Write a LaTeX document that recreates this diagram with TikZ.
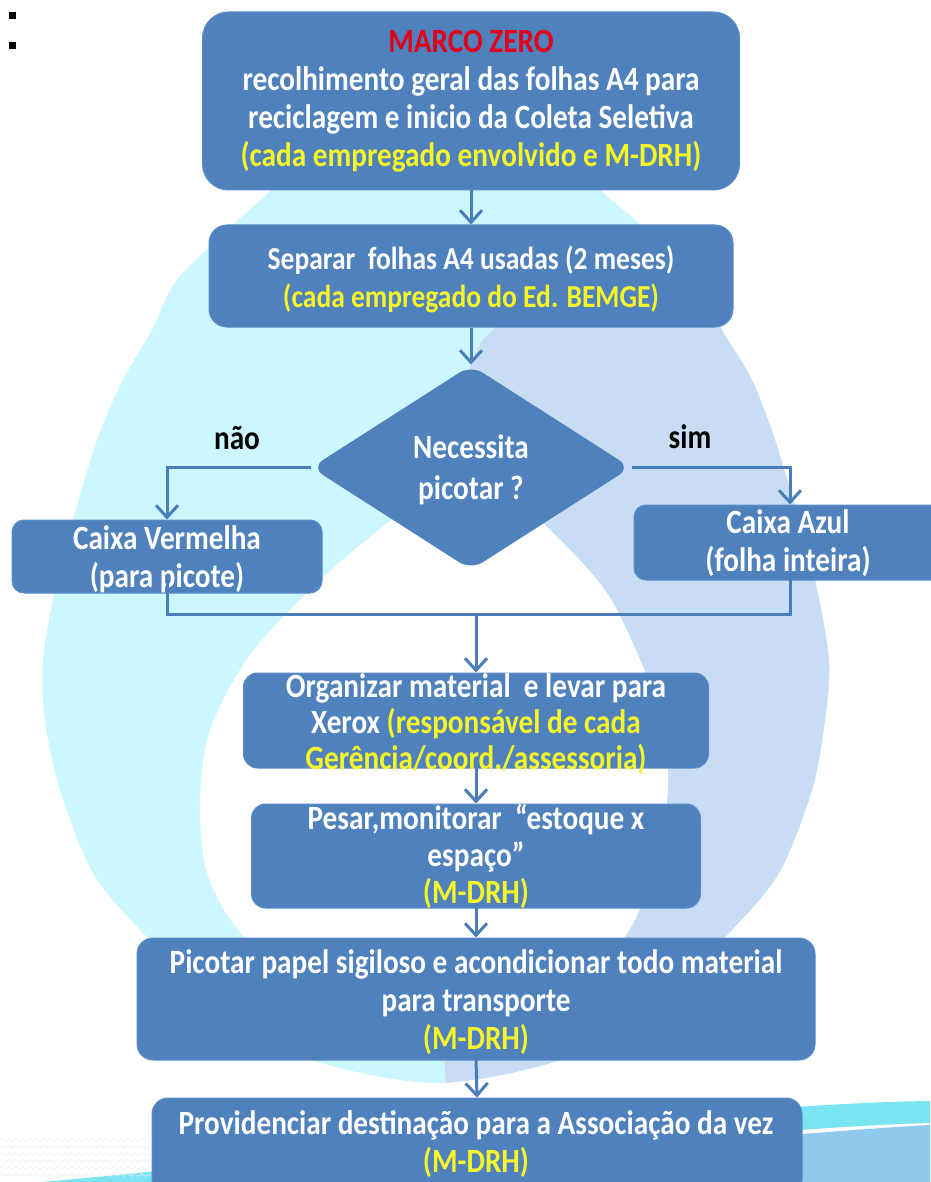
\documentclass[tikz,border=0pt]{standalone}
\usepackage{fontspec}
\setmainfont{Carlito}[FakeStretch=0.86]
\usetikzlibrary{arrows.meta,shapes.geometric,decorations.pathmorphing}
\definecolor{boxfill}{HTML}{4F81BD}
\definecolor{boxline}{HTML}{5C8DC9}
\definecolor{conncol}{HTML}{4A7EBB}
\definecolor{cyanbg}{HTML}{CDF7FE}
\definecolor{bluebg}{HTML}{C8DDF4}
\definecolor{ylw}{HTML}{F5F52A}
\definecolor{mzred}{HTML}{E0001B}
\definecolor{swcyan}{HTML}{7AE5F2}
\definecolor{swblue}{HTML}{8FC9EE}
\begin{document}
\begin{tikzpicture}[x=1pt,y=-1pt,
  box/.style={draw=boxline, fill=boxfill, line width=1pt, rounded corners=14pt, inner sep=0pt},
  txt/.style={text=white, font=\bfseries\fontsize{34}{38}\selectfont, align=center, inner sep=0pt},
  lbl/.style={text=black, font=\bfseries\fontsize{34}{38}\selectfont, inner sep=0pt},
  conn/.style={draw=conncol, line width=3pt},
  arr/.style={conn, -{Straight Barb[length=12pt,width=22pt,line width=3pt]}}]
\useasboundingbox (0,0) rectangle (930,1182);
% background drop
\def\droppath{plot[smooth cycle] coordinates {(436,70) (520,118) (600,190) (638,223) (696,280) (722,330) (752,380) (775,440) (797,513) (815,580) (829,660) (825,720) (812,790) (779,873) (729,933) (649,1010) (560,1060) (436,1083) (312,1060) (223,1010) (143,933) (93,873) (60,790) (45,720) (43,660) (57,580) (75,513) (97,440) (123,380) (152,330) (177,280) (235,223) (272,190) (352,118)}}
\fill[cyanbg] \droppath;
\begin{scope}
  \clip \droppath;
  \fill[bluebg] plot[smooth] coordinates {(690,200) (560,290) (493,330) (470,367) (455,450) (445,600) (440,800) (442,1000) (448,1120)} -- (1000,1120) -- (1000,200) -- cycle;
\end{scope}
\fill[white] plot[smooth cycle] coordinates {(470,462) (547,527) (605,590) (638,655) (662,720) (668,790) (655,862) (628,932) (560,1005) (440,1040) (320,1008) (242,935) (207,873) (200,800) (210,730) (250,655) (320,580) (400,513)};
% bottom swoosh
\fill[swcyan] (930,1101) .. controls (700,1104) and (300,1160) .. (30,1183) -- (930,1183) -- cycle;
\fill[white] (930,1123) .. controls (750,1128) and (400,1168) .. (200,1183) -- (930,1183) -- cycle;
\fill[swblue] (930,1125) .. controls (760,1134) and (420,1172) .. (230,1183) -- (930,1183) -- cycle;
\foreach \yy in {1140,1147,...,1178}{
  \draw[black!7, line width=0.6pt, decorate, decoration={zigzag, segment length=7pt, amplitude=1.5pt}] (0,\yy) -- (150,\yy);
}
% bullets
\fill[black] (9,12) rectangle (16,19);
\fill[black] (9,42) rectangle (16,49);
% boxes
\node[box, rounded corners=26pt, minimum width=537pt, minimum height=178pt] (b1) at (471,101) {};
\node[box, rounded corners=18pt, minimum width=524pt, minimum height=102pt] (b2) at (471,276) {};
\node[box, draw=none, shape=diamond, minimum width=320pt, minimum height=205pt] (d) at (471,467.5) {};
\node[box, rounded corners=12pt, minimum width=310pt, minimum height=73pt] (b3) at (167,556.5) {};
\node[box, rounded corners=12pt, minimum width=312pt, minimum height=75pt] (b4) at (790,542.5) {};
\node[box, minimum width=465pt, minimum height=95pt] (b5) at (476,720.5) {};
\node[box, minimum width=449pt, minimum height=104pt] (b6) at (476,856) {};
\node[box, rounded corners=16pt, minimum width=678pt, minimum height=122pt] (b7) at (476,999) {};
\node[box, rounded corners=16pt, minimum width=650pt, minimum height=97pt] (b8) at (477,1146.5) {};
% connectors
\draw[arr] (b1.south) -- (b2.north);
\draw[arr] (b2.south) -- (d.north);
\draw[arr] (d.west) -| (b3.north);
\draw[arr] (d.east) -| (b4.north);
\draw[arr] ([yshift=2pt]b5.south) -- (b6.north);
\draw[arr] ([yshift=2pt]b6.south) -- (b7.north);
\draw[arr] ([yshift=2pt]b7.south) -- (b8.north);
% texts
\node[txt] (t1) at (471,101) {\textcolor{mzred}{MARCO ZERO}\\ recolhimento geral das folhas A4 para\\ reciclagem e inicio da Coleta Seletiva\\ \textcolor{ylw}{(cada empregado envolvido e M-DRH)}};
\node[txt, font=\bfseries\fontsize{32}{38}\selectfont] (t2) at (471,279) {Separar~ folhas A4 usadas (2 meses)\\ \textcolor{ylw}{(cada empregado do Ed. BEMGE)}};
\node[txt, font=\bfseries\fontsize{34}{41}\selectfont] (td) at (471,469.5) {Necessita\\ picotar ?};
\node[lbl] (nao) at (237,438) {não};
\node[lbl] (sim) at (690,437) {sim};
\node[txt] (t3) at (167,559) {Caixa Vermelha\\ (para picote)};
\node[txt] (t4) at (788,543) {Caixa Azul\\ (folha inteira)};
\node[txt, font=\bfseries\fontsize{34}{36}\selectfont] (t5) at (476,724) {Organizar material~ e levar para\\ Xerox {\color{ylw}(responsável de cada}\\ {\color{ylw}Gerência/coord./assessoria)}};
\node[txt, font=\bfseries\fontsize{34}{37}\selectfont] (t6) at (476,857) {Pesar,monitorar~ “estoque x\\ espaço”\\ \textcolor{ylw}{(M-DRH)}};
\node[txt] (t7) at (476,1002) {Picotar papel sigiloso e acondicionar todo material\\ para transporte\\ \textcolor{ylw}{(M-DRH)}};
\node[txt] (t8) at (476,1144) {Providenciar destinação para a Associação da vez\\ \textcolor{ylw}{(M-DRH)}};
% merge connectors
\coordinate (m) at (476,614);
\draw[conn] ([yshift=18pt]b3.south) |- (m);
\draw[conn] ([yshift=6pt]b4.south) |- (m);
\draw[arr] (m) -- (b5.north);
\end{tikzpicture}
\end{document}
